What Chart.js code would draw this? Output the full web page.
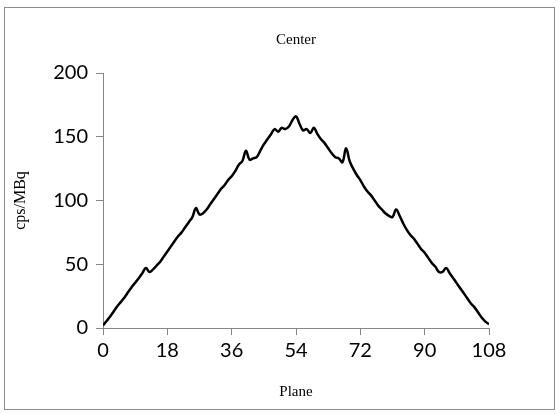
<!DOCTYPE html>
<html>
<head>
<meta charset="utf-8">
<script src="https://cdn.jsdelivr.net/npm/chart.js@4.4.1/dist/chart.umd.min.js"></script>
<style>
html,body{margin:0;padding:0;background:#fff}
#wrap{position:relative;width:560px;height:414px}
#frame{position:absolute;left:4px;top:7px;width:551px;height:403px;border:1px solid #8c8c8c;box-sizing:border-box}
#chart{position:absolute;left:0;top:0}
</style>
</head>
<body>
<div id="wrap"><div id="frame"></div><canvas id="chart" width="560" height="414"></canvas></div>
<script>
// planes 0..108 and the counts
const planes = [0,1,2,3,4,5,6,7,8,9,10,11,12,13,14,15,16,17,18,19,20,21,22,23,24,25,26,27,28,29,
  30,31,32,33,34,35,36,37,38,39,40,41,42,43,44,45,46,47,48,49,50,51,52,53,54,55,56,57,58,59,
  60,61,62,63,64,65,66,67,68,69,70,71,72,73,74,75,76,77,78,79,80,81,82,83,84,85,86,87,88,89,
  90,91,92,93,94,95,96,97,98,99,100,101,102,103,104,105,106,107,108];
const cpsPerMBq = [2,5.5,9,13,17,20.5,24,28,32,35.5,39,43,47,44,46,49,52,56,60,64,
  68,72,75,79,83,87,94,89,90,93,97,101,105,109,112,116,119,123,128,131,
  139,132,133,134,139,144,148,152,156,154,157,156,158,163,166,160,155,156,153,157,
  152,148,145,141,137,134,133,130,141,131,125,120,116,111,107,104,100,96,93,90,
  88,87,93,88,82,77,73,70,66,62,59,55,51,48,44,44,47,43,39,35,
  31,27,23,19,16,12,8,5,3];

const xTicks = {min: 0, max: 108, step: 18};
const yTicks = {min: 0, max: 200, step: 50};

const axisGray = '#868686';
const tickFont = {family: 'Lato', size: 20};
const serif = 'Liberation Serif';

new Chart(document.getElementById('chart'), {
  type: 'line',
  data: {
    datasets: [{
      data: planes.map((p, i) => ({x: p, y: cpsPerMBq[i]})),
      borderColor: '#000',
      borderWidth: 2.5,
      pointRadius: 0,
      tension: 0.4,
      fill: false
    }]
  },
  options: {
    responsive: false,
    animation: false,
    devicePixelRatio: 1,
    layout: {padding: {left: 5, right: 71, top: 0, bottom: 5}},
    plugins: {
      legend: {display: false},
      tooltip: {enabled: false}
    },
    scales: {
      // top axis only carries the chart title, so it is centred over the plot
      top: {
        type: 'linear', position: 'top', min: xTicks.min, max: xTicks.max,
        ticks: {display: false},
        grid: {display: false},
        border: {display: false},
        title: {display: true, text: 'Center', color: '#000', font: {family: serif, size: 15}, padding: {top: 31, bottom: 0}},
        afterFit: s => { s.height = 73; }
      },
      x: {
        type: 'linear', min: xTicks.min, max: xTicks.max,
        ticks: {stepSize: xTicks.step, color: '#000', font: tickFont, padding: 4, maxRotation: 0},
        grid: {drawOnChartArea: false, tickLength: 7, color: axisGray},
        border: {color: axisGray},
        title: {display: true, text: 'Plane', color: '#000', font: {family: serif, size: 15}, padding: {top: 0, bottom: 8}},
        afterFit: s => { s.height = 81; }
      },
      y: {
        min: yTicks.min, max: yTicks.max,
        ticks: {stepSize: yTicks.step, color: '#000', font: tickFont, padding: 8},
        grid: {drawOnChartArea: false, tickLength: 7, color: axisGray},
        border: {color: axisGray},
        title: {display: true, text: 'cps/MBq', color: '#000', font: {family: serif, size: 16}, padding: {top: 6, bottom: 0}},
        afterFit: s => { s.width = 98; }
      }
    }
  }
});
</script>
</body>
</html>
